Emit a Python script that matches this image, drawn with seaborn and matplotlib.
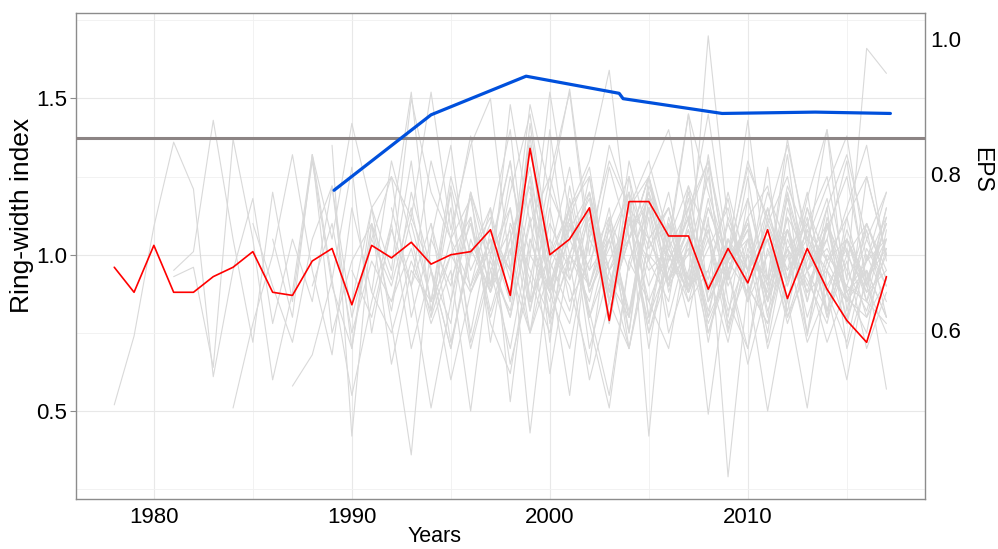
import numpy as np
import pandas as pd
import matplotlib
matplotlib.use("Agg")
import matplotlib.pyplot as plt
from matplotlib.ticker import MultipleLocator, FixedLocator, FormatStrFormatter
import seaborn as sns

# mean chronology (red)
years = list(range(1978, 2018))
mean_rwi = [0.96, 0.88, 1.03, 0.88, 0.88, 0.93, 0.96, 1.01, 0.88, 0.87,
            0.98, 1.02, 0.84, 1.03, 0.99, 1.04, 0.97, 1.00, 1.01, 1.08,
            0.87, 1.34, 1.00, 1.05, 1.15, 0.79, 1.17, 1.17, 1.06, 1.06,
            0.89, 1.02, 0.91, 1.08, 0.86, 1.02, 0.89, 0.79, 0.72, 0.93]

# running EPS (blue) and threshold
eps_years = [1989.1, 1994.0, 1998.8, 2003.5, 2003.7, 2008.7, 2013.4, 2017.2]
eps_values = [0.777, 0.884, 0.942, 0.916, 0.908, 0.886, 0.888, 0.886]
eps_threshold = 0.85

# individual tree series (grey): first year, then yearly indices
tree_start = [1978, 1981, 1981, 1984, 1986, 1987, 1988, 1989, 1990, 1990,
              1991, 1992, 1992, 1993, 1994, 1995, 1996, 1997, 1998, 1999,
              2000, 1985, 1988, 1993, 1995, 1991, 2002, 1996, 1997, 1999,
              2001, 1994, 2003, 1998]
tree_rwi = [
    [0.52, 0.74, 1.09, 1.36, 1.21, 0.61, 0.95, 1.18, 0.78, 1.05, 0.85, 1.22, 0.70, 1.10, 0.92, 1.30, 0.82, 1.15, 0.75, 1.08,
     0.95, 1.25, 0.72, 1.18, 0.88, 1.02, 1.20, 0.80, 1.12, 0.90, 1.28, 0.76, 1.05, 0.86, 1.20, 0.74, 1.10, 0.95, 0.82, 1.05],
    [0.95, 1.01, 1.43, 1.05, 0.72, 1.20, 0.85, 1.30, 0.90, 0.70, 1.15, 1.25, 0.80, 1.05, 1.35, 0.88, 1.02, 1.30, 0.85, 1.40,
     0.92, 1.15, 0.78, 1.25, 0.98, 0.85, 1.22, 1.05, 0.80, 1.18, 0.92, 1.32, 0.85, 1.10, 0.78, 1.25, 1.00],
    [0.93, 0.96, 0.64, 1.37, 1.05, 0.60, 0.88, 1.32, 0.75, 0.98, 1.10, 0.65, 0.95, 0.85, 1.20, 0.72, 0.98, 0.80, 1.12, 0.62,
     1.00, 1.20, 0.85, 0.70, 1.05, 0.90, 1.18, 0.75, 0.95, 1.08, 0.70, 0.92, 1.12, 0.80, 0.98, 0.70, 0.88],
    [0.51, 0.78, 1.00, 1.32, 0.95, 0.68, 1.15, 0.88, 1.30, 1.05, 0.80, 1.22, 0.95, 1.10, 1.40, 0.85, 1.00, 1.28, 0.90, 1.15,
     0.75, 1.25, 1.02, 0.88, 1.32, 0.92, 1.12, 0.80, 1.20, 0.95, 1.05, 1.30, 0.90, 1.15],
    [1.05, 0.80, 1.32, 0.92, 1.28, 0.75, 1.10, 1.52, 0.95, 0.78, 1.20, 1.00, 1.30, 0.82, 1.10, 0.95, 1.25, 0.88, 1.15, 0.70,
     1.05, 1.22, 0.85, 1.10, 0.92, 1.28, 0.80, 1.00, 1.18, 0.88, 0.75, 1.08],
    [0.58, 0.68, 0.92, 0.55, 0.85, 1.10, 0.70, 0.95, 0.60, 0.88, 1.05, 0.65, 0.92, 0.75, 1.10, 0.82, 0.55, 0.98, 0.85, 0.70,
     1.05, 0.78, 0.95, 0.65, 0.90, 1.02, 0.72, 0.88, 0.60, 0.95, 0.80],
    [1.32, 1.05, 1.42, 1.15, 0.95, 1.50, 1.20, 1.05, 1.38, 0.90, 1.48, 1.10, 1.25, 1.52, 1.00, 1.35, 1.15, 1.30, 1.05, 1.45,
     1.20, 0.98, 1.30, 1.10, 1.25, 0.95, 1.15, 1.32, 1.05, 1.20],
    [1.35, 0.42, 1.10, 0.82, 1.20, 0.95, 0.70, 1.05, 0.88, 1.15, 0.75, 1.02, 0.90, 0.65, 1.10, 1.25, 0.80, 0.98, 1.12, 0.72,
     1.05, 0.90, 0.78, 1.08, 0.85, 1.15, 0.70, 0.92, 1.02],
    [0.85, 1.15, 0.78, 0.36, 1.05, 0.90, 1.20, 0.72, 1.10, 0.95, 0.80, 1.22, 0.88, 1.05, 0.75, 1.18, 0.92, 1.00, 1.25, 0.85,
     0.70, 1.10, 0.95, 1.20, 0.82, 1.05, 0.90, 0.75],
    [0.95, 0.80, 1.08, 0.90, 0.51, 0.85, 1.12, 0.78, 0.62, 1.00, 0.88, 1.15, 0.70, 0.95, 1.05, 0.78, 1.10, 0.85, 0.95, 0.72,
     1.02, 0.88, 1.12, 0.75, 0.98, 0.85, 1.08, 0.80],
    [1.05, 1.25, 1.12, 1.52, 1.08, 1.35, 1.50, 0.95, 1.48, 1.20, 1.53, 1.05, 1.30, 1.15, 1.25, 1.40, 1.10, 1.45, 1.00, 1.28,
     1.12, 1.35, 1.05, 1.22, 1.38, 0.98, 1.20],
    [0.85, 1.02, 0.78, 0.95, 0.50, 1.00, 0.80, 1.10, 0.88, 0.70, 1.05, 0.92, 0.80, 1.12, 0.75, 0.95, 1.08, 0.82, 1.00, 0.72,
     1.05, 0.88, 0.95, 0.78, 1.02, 0.90],
    [1.15, 0.90, 1.30, 1.05, 1.18, 0.88, 1.25, 1.00, 1.52, 1.12, 0.95, 1.28, 1.05, 1.20, 0.90, 1.15, 1.30, 0.95, 1.12, 1.22,
     0.92, 1.18, 1.40, 1.00, 0.88, 1.15],
    [0.90, 1.10, 0.72, 1.00, 1.15, 0.53, 1.05, 0.85, 1.12, 0.78, 0.51, 0.98, 1.15, 0.80, 1.05, 0.49, 0.95, 1.10, 0.82, 1.00,
     0.75, 1.12, 0.88, 0.95, 0.57],
    [1.10, 0.85, 1.20, 0.95, 1.08, 0.43, 0.98, 1.15, 0.80, 1.05, 1.20, 0.42, 1.10, 0.88, 1.18, 0.90, 1.05, 0.75, 1.15, 0.95,
     0.82, 1.08, 0.90, 1.10],
    [0.92, 1.10, 0.80, 1.02, 0.75, 0.95, 0.55, 1.10, 0.85, 1.15, 0.90, 1.05, 0.80, 1.12, 0.29, 0.90, 0.50, 0.86, 0.51, 0.95,
     0.85, 1.05, 0.90],
    [1.10, 0.90, 1.20, 1.45, 1.00, 1.15, 1.25, 0.85, 1.30, 1.05, 1.15, 0.92, 1.70, 1.10, 0.95, 1.20, 1.02, 1.10, 1.25, 0.92,
     1.66, 1.58],
    [0.95, 0.70, 1.05, 0.88, 1.10, 0.80, 0.98, 1.12, 0.75, 1.00, 0.85, 1.08, 0.78, 0.95, 1.05, 0.82, 1.10, 0.88, 0.72, 1.00,
     0.85],
    [1.00, 1.35, 0.90, 1.15, 1.30, 1.59, 1.05, 1.25, 0.95, 1.12, 1.30, 1.00, 1.18, 0.90, 1.22, 1.05, 0.95, 1.15, 1.35, 0.98],
    [1.20, 0.90, 1.05, 1.18, 0.80, 1.12, 0.95, 1.02, 1.45, 0.85, 1.00, 1.43, 0.92, 1.37, 1.02, 1.40, 0.82, 1.10, 0.95],
    [0.98, 0.82, 1.15, 0.95, 0.70, 1.05, 1.15, 0.88, 1.05, 0.75, 1.00, 0.92, 1.08, 0.80, 1.00, 0.90, 1.10, 0.92],
    [1.10, 0.90, 0.72, 1.05, 1.22, 0.80, 1.05, 0.90, 1.15, 0.85, 1.00, 1.12, 0.82, 1.05, 1.28, 0.88, 1.00, 1.15, 0.85, 1.05,
     1.18, 0.92, 1.05, 0.80, 1.12, 0.95, 1.05, 0.85, 1.15, 0.90, 1.02, 0.80, 0.92],
    [0.90, 1.10, 0.75, 0.98, 0.85, 1.12, 0.95, 0.70, 1.02, 0.88, 1.05, 1.22, 0.78, 1.00, 0.90, 1.08, 0.82, 1.15, 0.90, 1.02,
     0.75, 0.98, 1.10, 0.85, 1.02, 0.92, 0.78, 1.05, 0.88, 0.95],
    [1.10, 0.85, 1.25, 1.00, 1.12, 0.92, 1.38, 0.90, 1.08, 1.20, 0.95, 1.05, 1.25, 0.88, 1.10, 0.92, 1.20, 0.95, 1.10, 0.90,
     1.15, 0.98, 1.05, 0.85, 1.12],
    [1.05, 0.90, 1.15, 0.85, 1.42, 0.95, 1.12, 1.28, 0.88, 1.20, 1.02, 1.15, 0.90, 0.95, 1.18, 0.85, 1.15, 0.92, 1.08, 0.80,
     1.12, 1.25, 1.00],
    [0.88, 0.75, 0.98, 0.82, 1.05, 0.70, 0.95, 0.82, 1.18, 0.80, 0.98, 0.60, 0.85, 1.05, 0.75, 0.95, 1.08, 0.80, 0.95, 0.70,
     1.02, 0.80, 0.95, 0.72, 0.90, 0.85, 0.78],
    [1.20, 0.85, 1.05, 1.25, 0.98, 1.12, 0.90, 1.05, 0.85, 1.12, 0.95, 1.05, 0.82, 1.00, 1.10, 0.92],
    [0.90, 1.05, 0.85, 1.25, 0.92, 0.78, 1.08, 0.95, 1.12, 0.85, 1.02, 1.15, 0.85, 0.98, 0.88, 1.05, 0.78, 0.98, 1.10, 0.86,
     0.80, 1.02],
    [1.00, 1.15, 0.82, 1.20, 1.05, 0.90, 1.10, 0.80, 1.22, 1.05, 0.92, 1.15, 0.98, 1.08, 0.85, 1.12, 1.00, 0.88, 1.05, 0.92,
     1.10],
    [0.85, 1.05, 0.92, 1.12, 0.78, 1.10, 0.98, 1.20, 0.88, 1.02, 1.15, 0.85, 1.00, 1.08, 0.90, 1.05, 0.80, 0.98, 1.12],
    [1.12, 0.95, 1.05, 0.80, 1.15, 1.00, 0.88, 1.10, 0.92, 1.25, 0.85, 1.08, 0.95, 1.02, 0.88, 0.98, 1.05],
    [0.80, 1.00, 0.88, 1.05, 0.95, 0.75, 1.15, 0.85, 0.98, 1.12, 0.70, 1.00, 0.92, 1.08, 0.82, 1.05, 0.90, 0.78, 1.02, 0.88,
     1.10, 0.85, 0.95, 0.80],
    [0.90, 1.15, 1.05, 0.92, 1.20, 0.88, 1.05, 0.95, 1.15, 0.90, 1.08, 0.98, 1.12, 0.85, 1.00],
    [1.10, 0.92, 1.25, 1.00, 0.85, 1.12, 0.95, 1.20, 1.02, 0.88, 1.15, 0.98, 1.05, 0.90, 1.18, 0.95, 1.08, 1.25, 0.92, 1.05],
]

rows = []
for i, (start, vals) in enumerate(zip(tree_start, tree_rwi)):
    for k, v in enumerate(vals):
        rows.append({"tree": i, "year": start + k, "rwi": v})
trees_df = pd.DataFrame(rows)
mean_df = pd.DataFrame({"year": years, "rwi": mean_rwi})
eps_df = pd.DataFrame({"year": eps_years, "eps": eps_values})

sns.set_theme(style="white")
plt.rcParams["font.family"] = ["Liberation Sans", "DejaVu Sans"]

# secondary EPS axis is a power transform of the ring-width axis
A, B, P = 5.04, -3.35, 0.4
def eps_to_rwi(e):
    return A * np.power(np.clip(e, 1e-9, None), P) + B
def rwi_to_eps(r):
    return np.power(np.clip((np.asarray(r) - B) / A, 1e-9, None), 1.0 / P)

fig, ax = plt.subplots(figsize=(9.98, 5.49), dpi=100)
fig.subplots_adjust(left=0.0758, right=0.9269, top=0.9763, bottom=0.0911)

sns.lineplot(data=trees_df, x="year", y="rwi", units="tree", estimator=None,
             color="#d9d9d9", linewidth=0.8, ax=ax, legend=False)
sns.lineplot(data=mean_df, x="year", y="rwi", color="#ff0000", linewidth=1.2, ax=ax)

ylo, yhi = 0.219, 1.773
ax.set_xlim(1976.05, 2018.95)
ax.set_ylim(ylo, yhi)
ax.xaxis.set_major_locator(MultipleLocator(10))
ax.xaxis.set_minor_locator(MultipleLocator(5))
ax.yaxis.set_major_locator(MultipleLocator(0.5))
ax.yaxis.set_minor_locator(MultipleLocator(0.25))
ax.yaxis.set_major_formatter(FormatStrFormatter("%.1f"))
ax.grid(which="major", color="#e8e8e8", linewidth=0.8)
ax.grid(which="minor", color="#f0f0f0", linewidth=0.6)
ax.set_axisbelow(True)
ax.tick_params(which="major", labelsize=16, length=4, width=0.8, color="#8c8c8c", pad=2, labelcolor="black")
ax.tick_params(which="minor", length=0)
for s in ax.spines.values():
    s.set_color("#8c8c8c")
    s.set_linewidth(1.0)

ax2 = ax.twinx()
ax2.set_yscale("function", functions=(eps_to_rwi, rwi_to_eps))
ax2.set_ylim(float(rwi_to_eps(ylo)), float(rwi_to_eps(yhi)))
ax2.axhline(eps_threshold, color="#8c8484", linewidth=2.2)
sns.lineplot(data=eps_df, x="year", y="eps", color="#0050dc", linewidth=2.3, ax=ax2)
ax2.yaxis.set_major_locator(FixedLocator([0.6, 0.8, 1.0]))
ax2.yaxis.set_minor_locator(FixedLocator([]))
ax2.yaxis.set_major_formatter(FormatStrFormatter("%.1f"))
ax2.tick_params(axis="y", labelsize=16, length=0, pad=4, labelcolor="black")
ax2.grid(False)
for s in ax2.spines.values():
    s.set_visible(False)

ax.set_xlabel("Years", fontsize=15.5, color="black")
ax.set_ylabel("Ring-width index", fontsize=19, color="black")
ax2.set_ylabel("EPS", fontsize=16.5, rotation=-90, color="black")
for lab in (ax.xaxis.label, ax.yaxis.label, ax2.yaxis.label):
    lab.set_va("center")
    lab.set_ha("center")
ax.xaxis.set_label_coords(0.423, -0.078)
ax.yaxis.set_label_coords(-0.0632, 0.584)
ax2.yaxis.set_label_coords(1.0667, 0.677)

fig.savefig("out.png", dpi=100)
